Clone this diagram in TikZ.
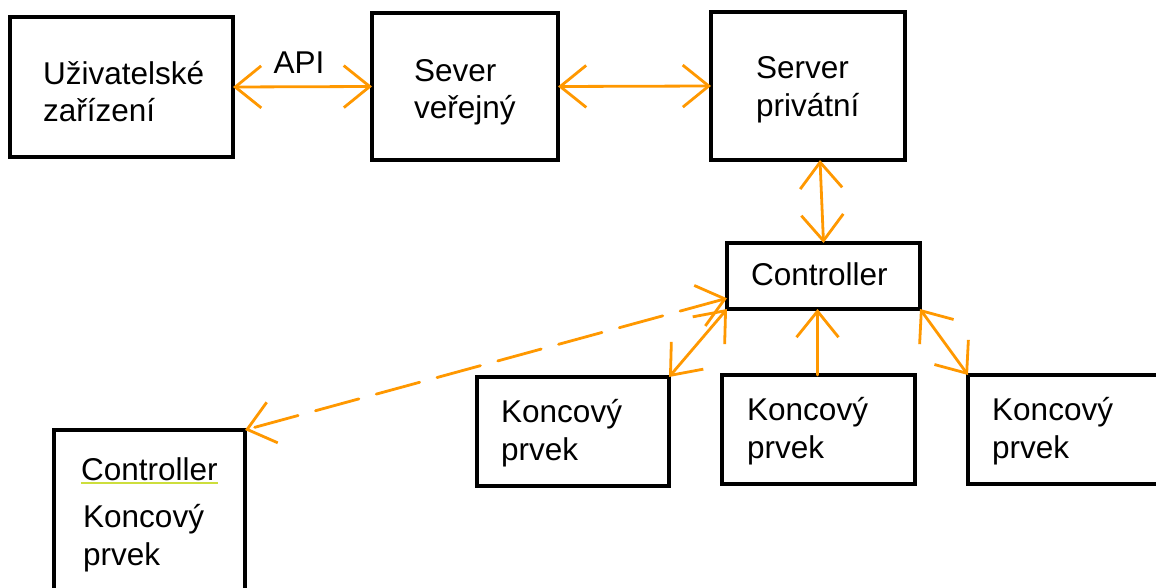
\documentclass[tikz,border=0pt]{standalone}
\usepackage{fontspec}
\setmainfont{Liberation Sans}
\usetikzlibrary{arrows.meta,calc}
\definecolor{arr}{RGB}{255,152,0}
\definecolor{uline}{RGB}{205,222,60}
\begin{document}
\begin{tikzpicture}[x=1pt,y=-1pt,
  box/.style={draw=black,line width=3.5pt,inner sep=0pt,outer sep=0pt,fill=none},
  txt/.style={anchor=base west,inner sep=0pt,font=\fontsize{31.5}{36}\selectfont},
  conn/.style={draw=arr,line width=2.8pt,line cap=round},
  >={Straight Barb[length=26pt,width=42pt,line width=2.8pt]},
  bi/.style={conn,<->},
  ]
\clip (0,0) rectangle (1156,588);
\fill[white] (0,0) rectangle (1156,588);
% boxes
\node[box,minimum width=223pt,minimum height=140pt] (u) at (121.5,87) {};
\node[box,minimum width=186pt,minimum height=147pt] (sv) at (465,86.5) {};
\node[box,minimum width=194pt,minimum height=148pt] (sp) at (808,86) {};
\node[box,minimum width=193pt,minimum height=66pt] (ctrl) at (823.5,276) {};
\node[box,minimum width=192pt,minimum height=109pt] (k1) at (573,431.5) {};
\node[box,minimum width=193pt,minimum height=109pt] (k2) at (818.5,429.5) {};
\node[box,minimum width=202pt,minimum height=109pt] (k3) at (1069,429.5) {};
\node[box,minimum width=191pt,minimum height=170pt] (bl) at (149.5,515) {};
% texts
\node[txt] (t1) at (43,85) {Uživatelské};
\node[txt] (t2) at (43,122) {zařízení};
\node[txt] (t3) at (414,82) {Sever};
\node[txt] (t4) at (414,119) {veřejný};
\node[txt] (t5) at (756,79) {Server};
\node[txt] (t6) at (756,117) {privátní};
\node[txt] (t7) at (751,285) {Controller};
\node[txt] (t8) at (501,422) {Koncový};
\node[txt] (t9) at (501,460) {prvek};
\node[txt] (t10) at (747,420) {Koncový};
\node[txt] (t11) at (747,458) {prvek};
\node[txt] (t12) at (992,420) {Koncový};
\node[txt] (t13) at (992,458) {prvek};
\node[txt] (t14) at (81,480) {Controller};
\node[txt] (t15) at (83,527) {Koncový};
\node[txt] (t16) at (83,565) {prvek};
\node[txt,anchor=base] (api) at (299,74) {API};
\draw[uline,line width=2pt] ($(t14.base west)+(0,3)$) -- ($(t14.base east)+(0,3)$);
% connectors
\draw[bi] (u.east) -- (sv.west);
\draw[bi] (sv.east) -- (sp.west);
\draw[bi] ([xshift=12pt]sp.south) -- (ctrl.north);
\draw[bi] (ctrl.south west) -- (k1.north east);
\draw[conn,->] ([xshift=-1pt]k2.north) -- ([xshift=-1pt]k2.north |- ctrl.south);
\draw[bi] (ctrl.south east) -- (k3.north west);
\draw[bi,dash pattern=on 45pt off 18pt] (ctrl.193) -- (bl.north east);
\end{tikzpicture}
\end{document}
